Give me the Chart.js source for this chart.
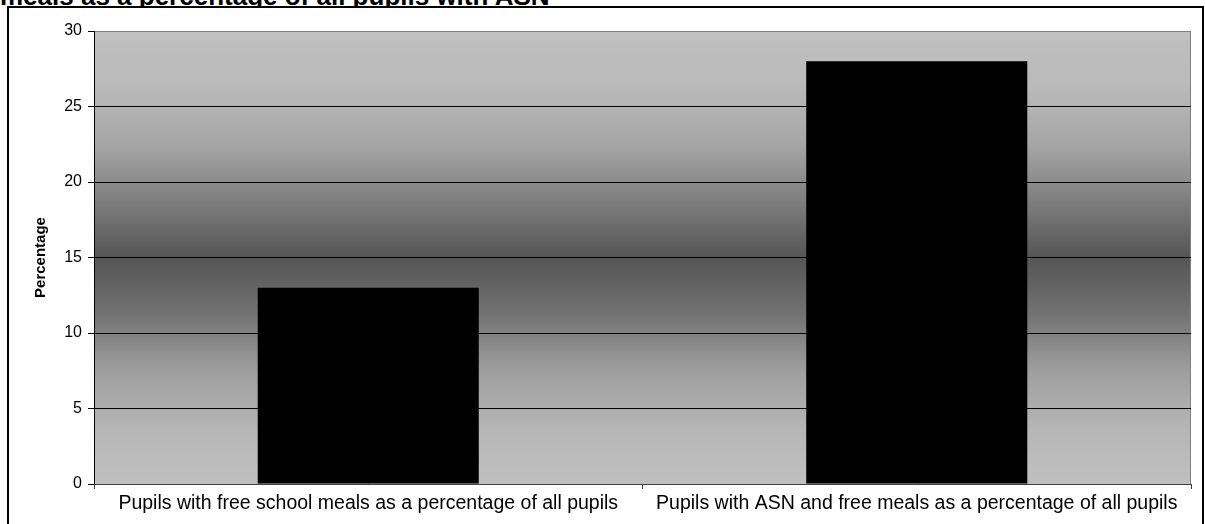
<!DOCTYPE html>
<html>
<head>
<meta charset="utf-8">
<title>Free school meals and ASN</title>
<script src="https://cdn.jsdelivr.net/npm/chart.js@4.4.1/dist/chart.umd.min.js"></script>
<style>
  html, body { margin: 0; padding: 0; background: #fff; }
  body { width: 1205px; height: 524px; position: relative; overflow: hidden; font-family: Arial, "Liberation Sans", sans-serif; }
  .page-title { position: absolute; left: 0; top: -17px; font-size: 26px; line-height: 26px; font-weight: 700; color: #000; white-space: nowrap; }
  .frame { position: absolute; left: 7px; top: 6px; width: 1197px; height: 530px; box-sizing: border-box; border: 2px solid #000; background: #fff; }
  .chart-wrap { position: absolute; left: 0; top: 0; width: 1205px; height: 524px; }
</style>
</head>
<body>
<div class="page-title">meals as a percentage of all pupils with ASN</div>
<div class="frame"></div>
<div class="chart-wrap"><canvas id="mealsChart"></canvas></div>
<script>
  const categories = [
    "Pupils with free school meals as a percentage of all pupils",
    "Pupils with ASN and free meals as a percentage of all pupils"
  ];
  const percentValues = [13, 28];
  const yAxisLabel = "Percentage";
  const yMin = 0, yMax = 30, yStep = 5;

  const FONT = "Arial, 'Liberation Sans', sans-serif";

  // grey band background: light at top and bottom, dark through the middle
  const plotBackground = {
    id: "plotBackground",
    beforeDraw(chart) {
      const { ctx, chartArea: a } = chart;
      const g = ctx.createLinearGradient(0, a.top, 0, a.bottom);
      g.addColorStop(0, "#c0c0c0");
      g.addColorStop(0.12, "#bababa");
      g.addColorStop(0.25, "#a6a6a6");
      g.addColorStop(0.375, "#7e7e7e");
      g.addColorStop(0.5, "#555555");
      g.addColorStop(0.625, "#727272");
      g.addColorStop(0.75, "#9e9e9e");
      g.addColorStop(0.88, "#b6b6b6");
      g.addColorStop(1, "#c0c0c0");
      ctx.save();
      ctx.fillStyle = g;
      ctx.fillRect(a.left, a.top, a.right - a.left, a.bottom - a.top);
      ctx.strokeStyle = "#808080";
      ctx.lineWidth = 1;
      ctx.beginPath();
      ctx.moveTo(a.left, a.top + 0.5);
      ctx.lineTo(a.right - 0.5, a.top + 0.5);
      ctx.lineTo(a.right - 0.5, a.bottom);
      ctx.stroke();
      ctx.restore();
    }
  };

  new Chart(document.getElementById("mealsChart"), {
    type: "bar",
    data: {
      labels: categories,
      datasets: [{
        label: yAxisLabel,
        data: percentValues,
        backgroundColor: "#000",
        borderWidth: 0,
        barPercentage: 0.403,
        categoryPercentage: 1
      }]
    },
    options: {
      responsive: true,
      maintainAspectRatio: false,
      animation: false,
      layout: { padding: { top: 31, right: 14, bottom: 0, left: 0 } },
      plugins: { legend: { display: false }, tooltip: { enabled: false }, title: { display: false } },
      scales: {
        x: {
          offset: true,
          grid: { offset: true, drawOnChartArea: false, tickLength: 5, color: "#404040" },
          border: { color: "#404040", width: 1 },
          ticks: { color: "#000", font: { family: FONT, size: 19.5 }, padding: 3, maxRotation: 0, autoSkip: false },
          afterFit(scale) { scale.height = 40; }
        },
        y: {
          min: yMin,
          max: yMax,
          ticks: { stepSize: yStep, color: "#000", font: { family: FONT, size: 16 }, padding: 6 },
          grid: {
            tickLength: 6,
            color: ctx => ctx.tick && ctx.tick.value === yMax ? "#808080" : "#000",
            tickColor: "#000"
          },
          border: { color: "#000", width: 1 },
          title: { display: true, text: yAxisLabel, color: "#000", font: { family: FONT, size: 15, weight: "bold" }, padding: { top: 32, bottom: 0 } },
          afterFit(scale) { scale.width = 94; }
        }
      }
    },
    plugins: [plotBackground]
  });
</script>
</body>
</html>
